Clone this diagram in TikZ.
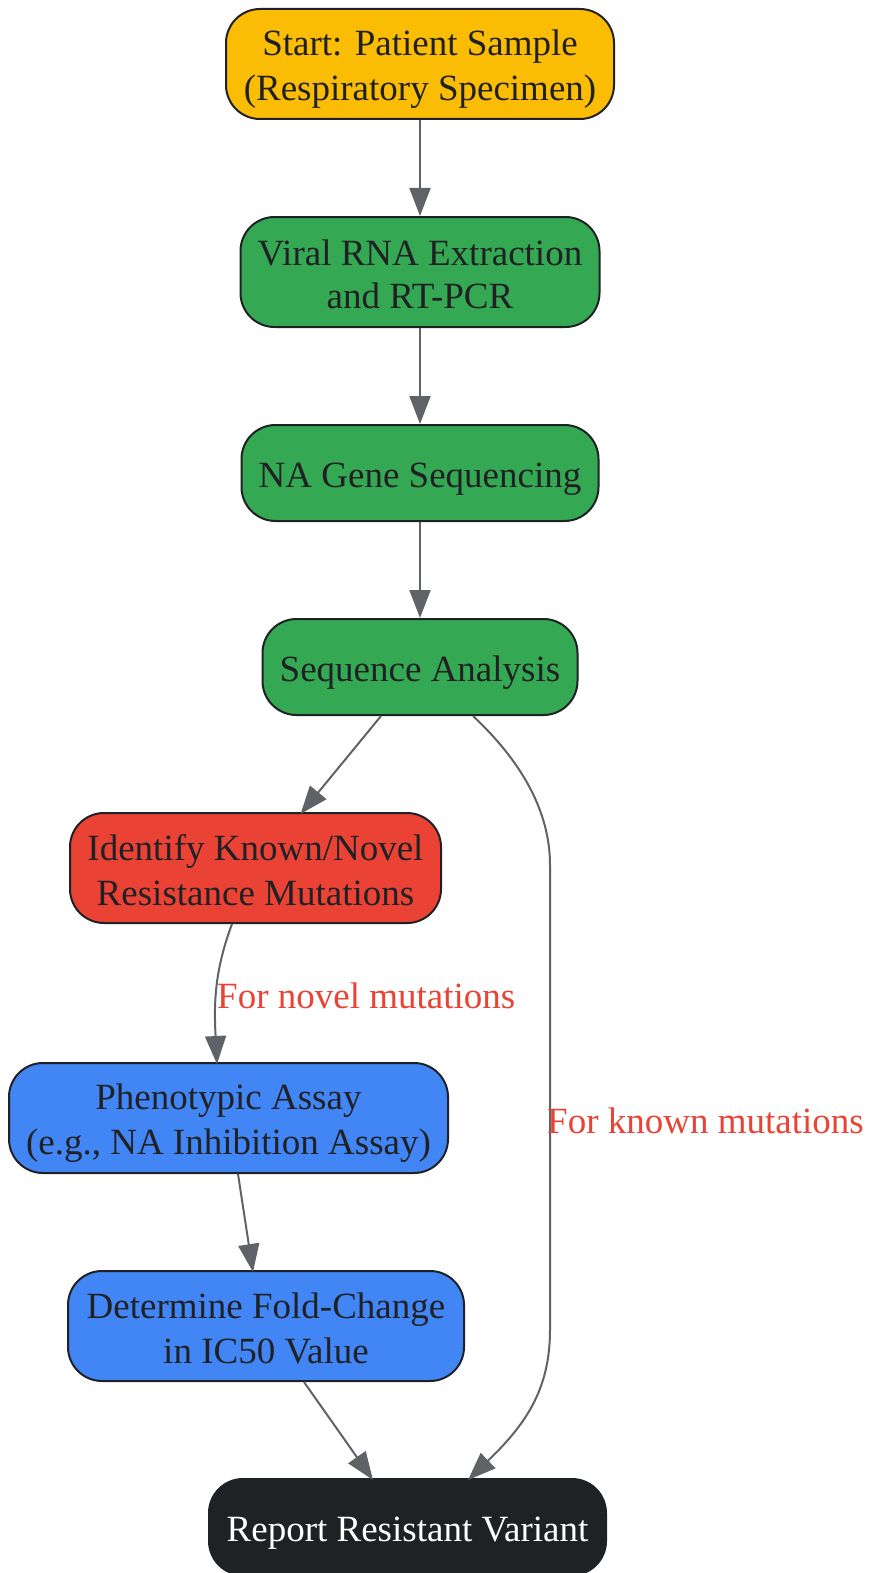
\documentclass[tikz,border=0pt]{standalone}
\usepackage{fontspec}
\setmainfont{Liberation Serif}
\usetikzlibrary{arrows.meta}
\definecolor{gyellow}{HTML}{FBBC04}
\definecolor{ggreen}{HTML}{34A853}
\definecolor{gred}{HTML}{EA4335}
\definecolor{gblue}{HTML}{4285F4}
\definecolor{gdark}{HTML}{202124}
\definecolor{ggray}{HTML}{5F6368}
\newcommand\ls{\rule[-7pt]{0pt}{43pt}}
\tikzset{
  box/.style={draw=gdark, line width=2pt, rounded corners=34pt, align=center,
    text=gdark, inner sep=0pt, font=\fontsize{37}{43}\selectfont},
  conn/.style={draw=ggray, line width=2pt, -{Triangle[length=28pt,width=21pt]}},
  elabel/.style={text=gred, font=\fontsize{37}{43}\selectfont, inner sep=0pt}
}
\begin{document}
\begin{tikzpicture}[x=1pt,y=-1pt]
\useasboundingbox (0,0) rectangle (870,1573);
\node[box, fill=gyellow, minimum width=388pt, minimum height=110pt] (start) at (420,64) {\ls Start: Patient Sample\\\ls(Respiratory Specimen)};
\node[box, fill=ggreen, minimum width=359pt, minimum height=110pt] (rna) at (420,272) {\ls Viral RNA Extraction\\\ls and RT-PCR};
\node[box, fill=ggreen, minimum width=357pt, minimum height=96pt] (seq) at (420,473) {\ls NA Gene Sequencing};
\node[box, fill=ggreen, minimum width=315pt, minimum height=96pt] (sa) at (420,667) {\ls Sequence Analysis};
\node[box, fill=gred, minimum width=371pt, minimum height=110pt] (id) at (255.5,868) {\ls Identify Known/Novel\\\ls Resistance Mutations};
\node[box, fill=gblue, minimum width=439pt, minimum height=110pt] (ph) at (228.5,1118) {\ls Phenotypic Assay\\\ls(e.g., NA Inhibition Assay)};
\node[box, fill=gblue, minimum width=396pt, minimum height=110pt] (fc) at (266,1326) {\ls Determine Fold-Change\\\ls in IC50 Value};
\node[box, fill=gdark, text=white, minimum width=397pt, minimum height=96pt] (rep) at (407.5,1527) {\ls Report Resistant Variant};

\draw[conn] (start) -- (rna);
\draw[conn] (rna) -- (seq);
\draw[conn] (seq) -- (sa);
\draw[conn] ([xshift=-39pt]sa.south) -- ([xshift=45pt,yshift=-2pt]id.north);
\draw[conn] ([xshift=53pt]sa.south) .. controls (520,760) and (550,810) .. (550,865)
  -- (550,1330) .. controls (550,1390) and (525,1425) .. ([xshift=60.5pt,yshift=-2pt]rep.north);
\draw[conn] ([xshift=-23.5pt]id.south) .. controls (214,972) and (214,1005) .. ([xshift=-11.5pt,yshift=-2pt]ph.north);
\draw[conn] ([xshift=9.5pt]ph.south) -- ([xshift=-13pt,yshift=-2pt]fc.north);
\draw[conn] ([xshift=38pt]fc.south) -- ([xshift=-34.5pt,yshift=-2pt]rep.north);

\node[elabel, anchor=west] (lnovel) at (217,993.5) {\ls For novel mutations};
\node[elabel, anchor=west] (lknown) at (547,1118.5) {\ls For known mutations};
\end{tikzpicture}
\end{document}
